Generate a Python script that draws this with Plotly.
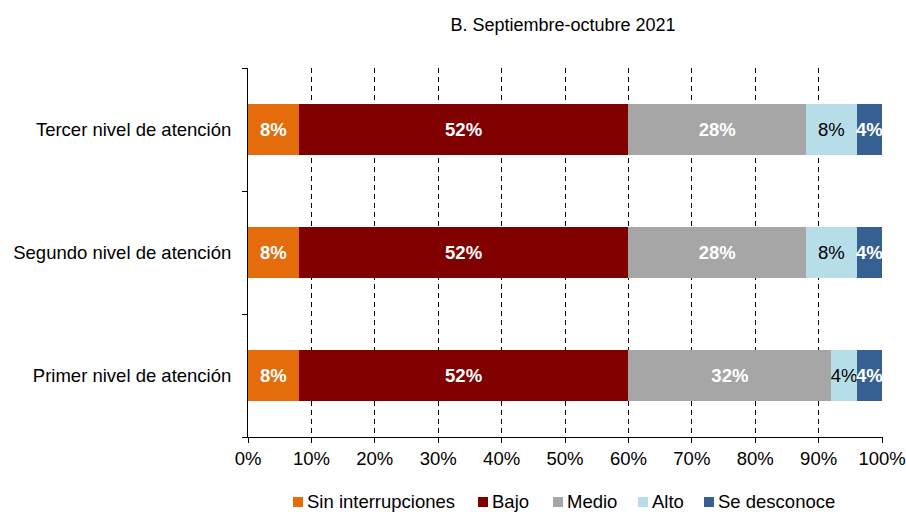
import plotly.graph_objects as go

# Levels of care (bottom to top) and share of facilities by degree of interruption
niveles = ["Primer nivel de atención", "Segundo nivel de atención", "Tercer nivel de atención"]
series = ["Sin interrupciones", "Bajo", "Medio", "Alto", "Se desconoce"]
sin_interrupciones = [8, 8, 8]
bajo = [52, 52, 52]
medio = [32, 28, 28]
alto = [4, 8, 8]
se_desconoce = [4, 4, 4]
x_ticks = [0, 10, 20, 30, 40, 50, 60, 70, 80, 90, 100]

valores = [sin_interrupciones, bajo, medio, alto, se_desconoce]
colores = ["#E46C0A", "#800000", "#A6A6A6", "#B7DEE8", "#376092"]
texto_color = ["white", "white", "white", "black", "white"]
texto_bold = [True, True, True, False, True]

FONT = "Liberation Sans, Arial, sans-serif"
FS = 18.5

W, H = 906, 512
ML, MR, MT, MB = 248, 23, 68, 75
PW, PH = W - ML - MR, H - MT - MB


def px_x(px):
    return (px - ML) / PW


def px_y(py):
    return (H - MB - py) / PH


fig = go.Figure()
for nombre, vals, col, tcol, bold in zip(series, valores, colores, texto_color, texto_bold):
    fig.add_trace(go.Bar(
        name=nombre,
        y=niveles,
        x=vals,
        orientation="h",
        marker=dict(color=col, line=dict(width=0)),
        text=[f"<b>{v}%</b>" if bold else f"{v}%" for v in vals],
        textposition="inside",
        insidetextanchor="middle",
        textangle=0,
        constraintext="none",
        textfont=dict(color=tcol, size=FS, family=FONT),
        hoverinfo="skip",
        showlegend=False,
    ))

# Legend row below the axis: colour swatch + series name
legend_left = [293, 478, 553, 638, 704]
shapes = []
annotations = []
for nombre, col, x0 in zip(series, colores, legend_left):
    shapes.append(dict(
        type="rect", xref="paper", yref="paper",
        x0=px_x(x0), x1=px_x(x0 + 10), y0=px_y(507), y1=px_y(497),
        fillcolor=col, line=dict(width=0),
    ))
    annotations.append(dict(
        text=nombre, xref="paper", yref="paper",
        x=px_x(x0 + 12), y=px_y(501), xanchor="left", yanchor="middle",
        showarrow=False, font=dict(size=FS, family=FONT, color="black"),
    ))

fig.update_layout(
    barmode="stack",
    bargap=0.59,
    width=W,
    height=H,
    margin=dict(l=ML, r=MR, t=MT, b=MB, autoexpand=False),
    paper_bgcolor="white",
    plot_bgcolor="white",
    font=dict(family=FONT, size=FS, color="black"),
    title=dict(
        text="B. Septiembre-octubre 2021",
        x=(448 + 678) / 2 / W,
        xanchor="center",
        y=1 - 25 / H,
        yanchor="middle",
        font=dict(size=18, family=FONT, color="black"),
    ),
    showlegend=False,
    shapes=shapes,
    annotations=annotations,
    xaxis=dict(
        range=[0, 100.15],
        tickvals=x_ticks,
        ticktext=[f"{v}%" for v in x_ticks],
        showgrid=True,
        gridcolor="black",
        griddash="5px,4px",
        gridwidth=1,
        showline=True,
        linecolor="black",
        linewidth=1,
        ticks="outside",
        ticklen=5,
        tickcolor="black",
        zeroline=False,
        fixedrange=True,
    ),
    yaxis=dict(
        categoryorder="array",
        categoryarray=niveles,
        showline=True,
        linecolor="black",
        linewidth=1,
        ticks="outside",
        ticklen=5,
        tickcolor="black",
        tickson="boundaries",
        showgrid=False,
        ticklabelstandoff=12,
        fixedrange=True,
    ),
)

fig.write_html("out.html")
